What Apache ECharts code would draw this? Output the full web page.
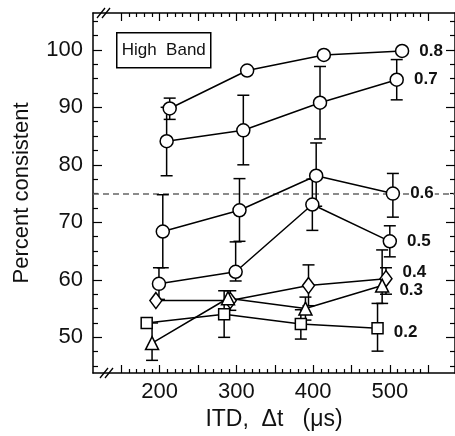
<!DOCTYPE html>
<html><head><meta charset="utf-8">
<script src="https://cdn.jsdelivr.net/npm/echarts@6/dist/echarts.min.js"></script>
<style>html,body{margin:0;padding:0;background:#fff}#c{width:455px;height:436px}</style>
</head><body><div id="c"></div>
<script>
// ---- data ----
const seriesNames = ['0.8', '0.7', '0.6', '0.5', '0.4', '0.3', '0.2'];
const seriesSymbols = ['circle', 'circle', 'circle', 'circle', 'diamond', 'triangle', 'rect'];
// ITD positions (slightly staggered per series, as plotted)
const itd08 = [213, 314, 414, 516];
const itd07 = [209, 309, 409, 509];
const itd06 = [204, 304, 404, 504];
const itd05 = [199, 299, 399, 500];
const itd04 = [195, 292, 394, 495];
const itd03 = [190, 289, 390, 490];
const itd02 = [183, 284, 384, 484];
// percent consistent
const pc08 = [89.8, 96.4, 99.1, 99.8];
const pc07 = [84.1, 86.0, 90.8, 94.8];
const pc06 = [68.4, 72.1, 78.1, 75.0];
const pc05 = [59.3, 61.4, 73.1, 66.7];
const pc04 = [56.4, 56.4, 59.0, 60.2];
const pc03 = [49.0, 56.8, 55.0, 59.0];
const pc02 = [52.5, 54.0, 52.3, 51.6];
// error bars [low, high] (null = not visible)
const err08 = [[87.9, 91.6], null, null, null];
const err07 = [[78.1, 90.0], [80.0, 92.1], [84.5, 97.1], [91.3, 98.3]];
const err06 = [[62.1, 74.8], [66.7, 77.6], [72.8, 83.8], [70.9, 78.5]];
const err05 = [[56.6, 62.1], [59.8, 66.6], [68.6, 77.5], [64.0, 69.4]];
const err04 = [null, [54.7, 58.1], [55.5, 62.6], [57.5, 62.1]];
const err03 = [[46.0, 52.5], null, [53.0, 57.0], [55.9, 65.2]];
const err02 = [null, [50.0, 58.1], [49.7, 54.8], [47.6, 55.9]];
// tick labels
const xTickLabels = [200, 300, 400, 500];
const yTickLabels = [50, 60, 70, 80, 90, 100];
const refLine = 75;
const boxTitle = 'High  Band';
const xTitle = 'ITD,  Δt   (μs)';
const yTitle = 'Percent consistent';

const itds = [itd08, itd07, itd06, itd05, itd04, itd03, itd02];
const pcs = [pc08, pc07, pc06, pc05, pc04, pc03, pc02];
const errs = [err08, err07, err06, err05, err04, err03, err02];

// ---- layout ----
const X_MIN = 113, X_MAX = 585, Y_MIN = 43.8, Y_MAX = 106.4;
const font = 'Liberation Sans, Arial, Helvetica, sans-serif';
const xMajor = [], xMinor = [], yMajor = [], yMinor = [];
for (let v = 150; v <= 550; v += 50) xMajor.push(v);
for (let v = 150; v <= 550; v += 10) if (v % 50) xMinor.push(v);
for (let v = 50; v <= 100; v += 10) yMajor.push(v);
for (let v = 45; v <= 105; v += 2.5) if (v % 10) yMinor.push(v);

function xAx(pos, ticks, len, showLine, labels) {
  return {
    type: 'value', position: pos, min: X_MIN, max: X_MAX,
    axisLine: { show: showLine, onZero: false, lineStyle: { color: '#000', width: 1.5 } },
    axisTick: { show: true, inside: true, length: len, customValues: ticks, lineStyle: { color: '#000', width: 1.2 } },
    axisLabel: labels ? { show: true, customValues: labels, color: '#111', fontSize: 22, fontFamily: font, margin: 8 } : { show: false },
    splitLine: { show: false }
  };
}
function yAx(pos, ticks, len, showLine, labels) {
  return {
    type: 'value', position: pos, min: Y_MIN, max: Y_MAX,
    axisLine: { show: showLine, onZero: false, lineStyle: { color: '#000', width: 1.5 } },
    axisTick: { show: true, inside: true, length: len, customValues: ticks, lineStyle: { color: '#000', width: 1.2 } },
    axisLabel: labels ? { show: true, customValues: labels, color: '#111', fontSize: 22, fontFamily: font, margin: 10 } : { show: false },
    splitLine: { show: false }
  };
}

const xAxes = [
  Object.assign(xAx('bottom', xMajor, 8, true, xTickLabels), {
    name: xTitle, nameLocation: 'middle', nameGap: 35,
    nameTextStyle: { color: '#111', fontSize: 23, fontFamily: font, verticalAlign: 'top' }
  }),
  xAx('bottom', xMinor, 4, false, null),
  xAx('top', xMajor, 8, true, null),
  xAx('top', xMinor, 4, false, null)
];
const yAxes = [
  Object.assign(yAx('left', yMajor, 9, true, yTickLabels), {
    name: yTitle, nameLocation: 'middle', nameGap: 60,
    nameTextStyle: { color: '#111', fontSize: 22, fontFamily: font }
  }),
  yAx('left', yMinor, 5, false, null),
  yAx('right', yMajor, 9, true, null),
  yAx('right', yMinor, 5, false, null)
];

const labelOffsets = { '0.4': [0, -6], '0.3': [0, 5], '0.2': [0, 4] };

function renderErr(params, api) {
  const x = api.value(0), lo = api.value(1), hi = api.value(2);
  const p1 = api.coord([x, lo]), p2 = api.coord([x, hi]);
  const w = 6;
  const style = { stroke: '#000', lineWidth: 1.5, fill: null };
  return {
    type: 'group', children: [
      { type: 'line', shape: { x1: p1[0], y1: p1[1], x2: p2[0], y2: p2[1] }, style: style },
      { type: 'line', shape: { x1: p1[0] - w, y1: p1[1], x2: p1[0] + w, y2: p1[1] }, style: style },
      { type: 'line', shape: { x1: p2[0] - w, y1: p2[1], x2: p2[0] + w, y2: p2[1] }, style: style }
    ]
  };
}

const series = [];
seriesNames.forEach(function (name, i) {
  const errData = [];
  errs[i].forEach(function (e, j) { if (e) errData.push([itds[i][j], e[0], e[1]]); });
  series.push({
    type: 'custom', name: name + ' err', renderItem: renderErr, data: errData,
    xAxisIndex: 0, yAxisIndex: 0, z: 2, silent: true
  });
});
seriesNames.forEach(function (name, i) {
  const sym = seriesSymbols[i];
  const size = sym === 'circle' ? 13 : sym === 'diamond' ? [12, 16] : sym === 'triangle' ? 13 : 11;
  const n = pcs[i].length;
  const data = pcs[i].map(function (v, j) {
    const item = { value: [itds[i][j], v] };
    if (j === n - 1) {
      item.label = {
        show: true, position: 'right', distance: 9, formatter: name,
        offset: labelOffsets[name] || [0, 0],
        color: '#111', fontSize: 17, fontWeight: 'bold', fontFamily: font,
        backgroundColor: name === '0.6' ? '#fff' : 'transparent', padding: [0, 1]
      };
    }
    return item;
  });
  const s = {
    type: 'line', name: name, data: data, xAxisIndex: 0, yAxisIndex: 0,
    symbol: sym, symbolSize: size, showAllSymbol: true,
    lineStyle: { color: '#000', width: 1.5 },
    itemStyle: { color: '#fff', borderColor: '#000', borderWidth: 1.5 },
    z: 3, animation: false
  };
  if (i === 0) {
    s.markLine = {
      silent: true, symbol: 'none', label: { show: false },
      lineStyle: { color: '#666', width: 1.5, type: [6, 4] },
      data: [{ yAxis: refLine }], z: 1
    };
  }
  series.push(s);
});

const chart = echarts.init(document.getElementById('c'), null, { renderer: 'canvas' });
chart.setOption({
  animation: false,
  backgroundColor: '#fff',
  grid: { left: 93, right: -2, top: 13, bottom: 60, containLabel: false },
  xAxis: xAxes,
  yAxis: yAxes,
  series: series
});

// decorations: axis-break marks and the panel title box
const tl = chart.convertToPixel({ xAxisIndex: 0, yAxisIndex: 0 }, [X_MIN, Y_MAX]);
const bl = chart.convertToPixel({ xAxisIndex: 0, yAxisIndex: 0 }, [X_MIN, Y_MIN]);
function brk(x, y) {
  const st = { stroke: '#000', lineWidth: 1.3 };
  return [
    { type: 'line', shape: { x1: x - 4, y1: y + 5, x2: x + 4, y2: y - 5 }, style: st },
    { type: 'line', shape: { x1: x + 1, y1: y + 5, x2: x + 9, y2: y - 5 }, style: st }
  ];
}
chart.setOption({
  graphic: [].concat(
    brk(tl[0] + 8, tl[1]),
    brk(bl[0] + 11, bl[1]),
    [{
      type: 'group', left: tl[0] + 23, top: tl[1] + 19, children: [
        { type: 'rect', shape: { x: 0, y: 0, width: 94, height: 35 }, style: { fill: '#fff', stroke: '#000', lineWidth: 1.5 } },
        { type: 'text', x: 47, y: 18, style: { text: boxTitle, fill: '#111', font: '17px ' + font, align: 'center', verticalAlign: 'middle' } }
      ]
    }]
  )
});
</script>
</body></html>
